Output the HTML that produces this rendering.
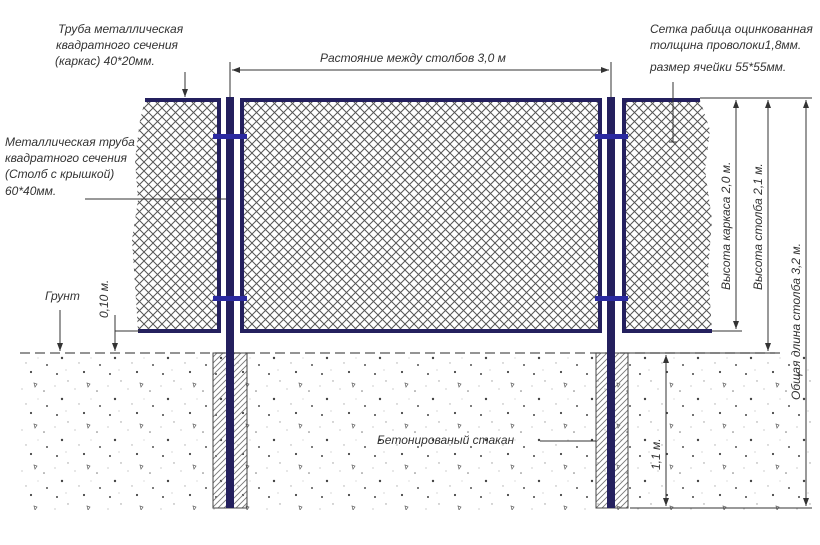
<!DOCTYPE html>
<html><head><meta charset="utf-8"><style>
html,body{margin:0;padding:0;background:#fff;}
svg{display:block}
text{font-family:"Liberation Sans",sans-serif;font-style:italic;fill:#333;font-size:12px;}
</style></head><body>
<svg width="820" height="545" viewBox="0 0 820 545" xmlns="http://www.w3.org/2000/svg">
<defs>
<pattern id="mesh" width="9" height="9" patternUnits="userSpaceOnUse">
<path d="M0 0L9 9M9 0L0 9" stroke="#555" stroke-width="1"/>
</pattern>
<pattern id="hatch" width="6" height="6" patternUnits="userSpaceOnUse">
<path d="M0 6L6 0M-1 1L1 -1M5 7L7 5" stroke="#777" stroke-width="0.9"/>
</pattern>
<pattern id="dots" width="53" height="41" patternUnits="userSpaceOnUse">
<circle cx="4" cy="5" r="1" fill="#444"/><circle cx="15" cy="12" r="0.7" fill="#999"/>
<circle cx="31" cy="3" r="1.1" fill="#444"/><circle cx="44" cy="22" r="0.8" fill="#777"/>
<circle cx="9" cy="30" r="1.2" fill="#444"/><circle cx="26" cy="35" r="0.7" fill="#aaa"/>
<circle cx="47" cy="37" r="1" fill="#555"/><circle cx="22" cy="20" r="0.6" fill="#aaa"/>
<path d="M34 14l3 1-2 3z" fill="none" stroke="#666" stroke-width="0.7"/>
<circle cx="2" cy="17" r="0.6" fill="#aaa"/><circle cx="13" cy="1" r="0.6" fill="#bbb"/>
<circle cx="38" cy="30" r="0.5" fill="#aaa"/>
</pattern>
</defs>
<!-- ground -->
<rect x="20" y="354" width="792" height="156" fill="url(#dots)"/>
<line x1="20" y1="353" x2="780" y2="353" stroke="#555" stroke-width="1.2" stroke-dasharray="10 5"/>
<!-- meshes -->
<path d="M145 100 L218 100 L218 331 L138 331 L136 300 L132 240 L138 200 L135 160 L140 120 Z" fill="url(#mesh)"/>
<rect x="242" y="100" width="358" height="231" fill="url(#mesh)"/>
<path d="M624 100 L700 100 L710 130 L705 170 L712 220 L708 270 L712 331 L624 331 Z" fill="url(#mesh)"/>
<!-- frames -->
<path d="M145 100 H219 V331 H138" fill="none" stroke="#24205e" stroke-width="4"/>
<rect x="242" y="100" width="358" height="231" fill="none" stroke="#24205e" stroke-width="4"/>
<path d="M700 100 H624 V331 H712" fill="none" stroke="#24205e" stroke-width="4"/>
<!-- sleeves -->
<rect x="213" y="353" width="34" height="155" fill="url(#hatch)" stroke="#444" stroke-width="1"/>
<rect x="596" y="353" width="32" height="155" fill="url(#hatch)" stroke="#444" stroke-width="1"/>
<!-- posts -->
<rect x="226" y="97" width="8" height="411" fill="#24205e"/>
<rect x="607" y="97" width="8" height="411" fill="#24205e"/>
<!-- clamps -->
<g fill="#2b2aa0">
<rect x="213" y="134" width="34" height="5"/><rect x="213" y="296" width="34" height="5"/>
<rect x="595" y="134" width="33" height="5"/><rect x="595" y="296" width="33" height="5"/>
</g>
<g stroke="#333" stroke-width="1" fill="none">
<line x1="230" y1="62" x2="230" y2="97"/><line x1="611" y1="62" x2="611" y2="97"/>
<line x1="232" y1="70" x2="609" y2="70"/>
<line x1="700" y1="98" x2="812" y2="98"/>
<line x1="712" y1="331" x2="742" y2="331"/>
<line x1="630" y1="353" x2="775" y2="353"/>
<line x1="630" y1="508" x2="812" y2="508"/>
<line x1="736" y1="100" x2="736" y2="329"/>
<line x1="768" y1="100" x2="768" y2="351"/>
<line x1="806" y1="100" x2="806" y2="506"/>
<line x1="666" y1="355" x2="666" y2="506"/>
<line x1="115" y1="331" x2="140" y2="331"/>
<line x1="115" y1="315" x2="115" y2="351"/>
<line x1="60" y1="310" x2="60" y2="351"/>
<line x1="185" y1="72" x2="185" y2="97"/>
<line x1="85" y1="199" x2="226" y2="199"/>
<line x1="673" y1="82" x2="673" y2="142"/>
<line x1="669" y1="142" x2="677" y2="142"/>
<line x1="540" y1="441" x2="596" y2="441"/>
</g>
<g fill="#333">
<path d="M232 70l8-3v6z"/><path d="M609 70l-8-3v6z"/>
<path d="M736 100l-3 8h6z"/><path d="M736 329l-3-8h6z"/>
<path d="M768 100l-3 8h6z"/><path d="M768 351l-3-8h6z"/>
<path d="M806 100l-3 8h6z"/><path d="M806 506l-3-8h6z"/>
<path d="M666 355l-3 8h6z"/><path d="M666 506l-3-8h6z"/>
<path d="M115 351l-3-8h6z"/><path d="M60 351l-3-8h6z"/>
<path d="M185 97l-3-8h6z"/>
</g>
<text x="58" y="33">Труба металлическая</text>
<text x="56" y="49">квадратного сечения</text>
<text x="55" y="65">(каркас) 40*20мм.</text>
<text x="5" y="146">Металлическая труба</text>
<text x="5" y="162">квадратного сечения</text>
<text x="5" y="178">(Столб с крышкой)</text>
<text x="5" y="195">60*40мм.</text>
<text x="45" y="300">Грунт</text>
<text x="320" y="62">Растояние между столбов 3,0 м</text>
<text x="650" y="33">Сетка рабица оцинкованная</text>
<text x="650" y="49">толщина проволоки1,8мм.</text>
<text x="650" y="71">размер ячейки 55*55мм.</text>
<text x="377" y="444">Бетонированый стакан</text>
<text transform="translate(108 318) rotate(-90)">0,10 м.</text>
<text transform="translate(730 290) rotate(-90)">Высота каркаса 2,0 м.</text>
<text transform="translate(762 290) rotate(-90)">Высота столба 2,1 м.</text>
<text transform="translate(800 400) rotate(-90)">Общая длина столба 3,2 м.</text>
<text transform="translate(660 470) rotate(-90)">1,1 м.</text>
</svg>
</body></html>
